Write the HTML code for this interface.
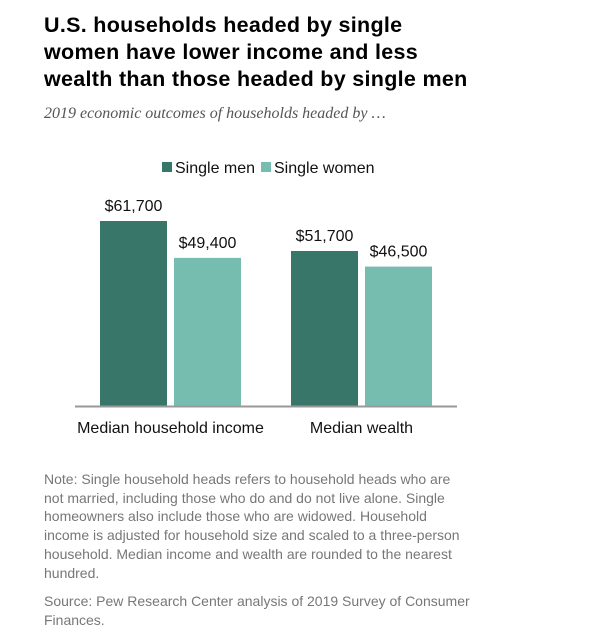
<!DOCTYPE html>
<html><head><meta charset="utf-8"><style>
body{margin:0;width:600px;height:634px;background:#fff;font-family:"Liberation Sans",sans-serif;position:relative;overflow:hidden}
#title{position:absolute;left:44px;top:12px;white-space:nowrap;font-size:21.5px;font-weight:bold;line-height:27px;color:#000;letter-spacing:0.3px}
#sub{position:absolute;left:44px;top:105px;font-family:"Liberation Serif",serif;font-style:italic;font-size:16px;color:#555}
#note{position:absolute;left:44px;top:470px;white-space:nowrap;font-size:14px;line-height:18.7px;color:#777}
#source{position:absolute;left:44px;top:592px;white-space:nowrap;font-size:14px;line-height:18.7px;color:#777}
</style></head><body>
<div id="title">U.S. households headed by single<br>women have lower income and less<br>wealth than those headed by single men</div>
<div id="sub">2019 economic outcomes of households headed by …</div>
<svg id="chart" width="600" height="440" style="position:absolute;left:0;top:0" font-family="Liberation Sans, sans-serif"></svg>
<div id="note">Note: Single household heads refers to household heads who are<br>not married, including those who do and do not live alone. Single<br>homeowners also include those who are widowed. Household<br>income is adjusted for household size and scaled to a three-person<br>household. Median income and wealth are rounded to the nearest<br>hundred.</div>
<div id="source">Source: Pew Research Center analysis of 2019 Survey of Consumer<br>Finances.</div>
<script>
const categories=["Median household income","Median wealth"];
const seriesNames=["Single men","Single women"];
const menValues=[61700,51700];
const womenValues=[49400,46500];
const valueLabels=[["$61,700","$51,700"],["$49,400","$46,500"]];
const colors=["#38766a","#76bdb0"];
const svg=document.getElementById('chart');
const NS="http://www.w3.org/2000/svg";
const baseY=406, pxPerUnit=185/61700;
function y(v){return baseY-v*pxPerUnit;}
const groupX=[100,291], barW=67, gap=7;
function mk(t,a){const e=document.createElementNS(NS,t);for(const k in a)e.setAttribute(k,a[k]);svg.appendChild(e);return e;}
const series=[menValues,womenValues];
series.forEach((vals,s)=>{
  vals.forEach((v,i)=>{
    const x=groupX[i]+s*(barW+gap);
    const r=mk('rect',{x:x,y:y(v),width:barW,height:baseY-y(v),fill:colors[s]});
    
    
    const t=mk('text',{x:x+barW/2,y:y(v)-10,'text-anchor':'middle','font-size':'16',fill:'#111'});
    t.textContent=valueLabels[s][i];
    
    
  });
});
const ax=mk('line',{x1:75,x2:457,y1:baseY+0.5,y2:baseY+0.5,stroke:'#999','stroke-width':2});


categories.forEach((c,i)=>{
  const t=mk('text',{x:groupX[i]+barW+gap/2,y:433,'text-anchor':'middle','font-size':'16',fill:'#111'});
  t.textContent=c;
  
  
});
const legX=[162,261];
seriesNames.forEach((n,s)=>{
  const r=mk('rect',{x:legX[s],y:162,width:10,height:10,fill:colors[s]});
  
  
  const t=mk('text',{x:legX[s]+13,y:173,'font-size':'16',fill:'#111'});
  t.textContent=n;
  
  
});
</script>
</body></html>
